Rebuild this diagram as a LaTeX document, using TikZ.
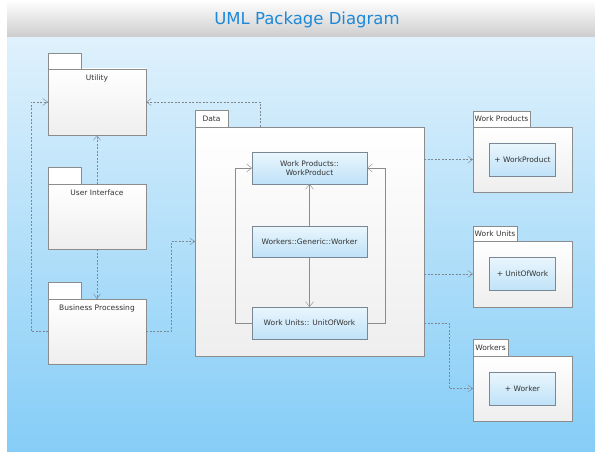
\documentclass[tikz,border=0pt]{standalone}
\usepackage{fontspec}
\setmainfont{DejaVu Sans}
\usetikzlibrary{positioning, arrows.meta}
\definecolor{titleBlue}{HTML}{1E88D8}
\definecolor{textGray}{HTML}{333333}
\definecolor{boxGray}{HTML}{8C8C8C}
\definecolor{clsBorder}{HTML}{7A8896}
\definecolor{clsTop}{HTML}{EAF6FD}
\definecolor{clsBottom}{HTML}{BFE2F8}
\definecolor{pkgBottom}{HTML}{EEEEEE}
\definecolor{skyTop}{HTML}{DFF1FC}
\definecolor{skyBottom}{HTML}{85CDF7}
\definecolor{barBottom}{HTML}{CDCDCD}
\definecolor{depGray}{HTML}{7F8890}

\begin{document}
\begin{tikzpicture}[x=1pt, y=-1pt,
    font=\fontsize{7.5}{9}\selectfont, text=textGray,
    body/.style={draw=boxGray, top color=white, bottom color=pkgBottom,
        anchor=north west, inner sep=0pt, outer sep=0pt},
    tab/.style={draw=boxGray, fill=white, anchor=south west,
        inner sep=1pt, outer sep=0pt, minimum height=16pt},
    cls/.style={draw=clsBorder, top color=clsTop, bottom color=clsBottom,
        align=center, inner sep=0pt, outer sep=0pt},
    dep/.style={draw=depGray, dash pattern=on 2pt off 1.5pt,
        -{Straight Barb[length=5pt,width=7pt]}},
    assoc/.style={draw=boxGray, -{Straight Barb[length=5pt,width=8pt]}}]

    % background and title
    \useasboundingbox (0,0) rectangle (595,452);
    \shade[top color=skyTop, bottom color=skyBottom] (7,37) rectangle (595,452);
    \shade[top color=white, bottom color=barBottom] (7,0) rectangle (595,37);
    \node[text=titleBlue, font=\fontsize{16.5}{18}\selectfont] (title) at (307,20) {UML Package Diagram};

    % left packages
    \node[body, minimum width=98pt, minimum height=66pt] (util) at (48,69) {};
    \node[tab, minimum width=33pt] (utilTab) at (util.north west) {};
    \node[below=2.5pt of util.north] (utilLabel) {Utility};

    \node[body, minimum width=98pt, minimum height=65pt] (ui) at (48,184) {};
    \node[tab, minimum width=33pt, minimum height=17pt] (uiTab) at (ui.north west) {};
    \node[below=2.5pt of ui.north] (uiLabel) {User Interface};

    \node[body, minimum width=98pt, minimum height=65pt] (bp) at (48,299) {};
    \node[tab, minimum width=33pt, minimum height=17pt] (bpTab) at (bp.north west) {};
    \node[below=2.5pt of bp.north] (bpLabel) {Business Processing};

    % data package
    \node[body, minimum width=229pt, minimum height=229pt] (data) at (195,127) {};
    \node[tab, minimum width=33pt, minimum height=17pt] (dataTab) at (data.north west) {Data};
    \node[cls, minimum width=115pt, minimum height=32pt] (wpCls) at (309.5,168) {Work Products::\\WorkProduct};
    \node[cls, minimum width=115pt, minimum height=31pt] (workerCls) at (309.5,241.5) {Workers::Generic::Worker};
    \node[cls, minimum width=115pt, minimum height=32pt] (wuCls) at (309.5,323) {Work Units:: UnitOfWork};

    % right packages
    \node[body, minimum width=99pt, minimum height=65pt] (wpPkg) at (473,127) {};
    \node[tab, minimum width=57pt] (wpTab) at (wpPkg.north west) {Work Products};
    \node[cls, minimum width=66pt, minimum height=33pt] (wpItem) at (wpPkg) {+ WorkProduct};

    \node[body, minimum width=99pt, minimum height=66pt] (wuPkg) at (473,241) {};
    \node[tab, minimum width=44pt, minimum height=15pt] (wuTab) at (wuPkg.north west) {Work Units};
    \node[cls, minimum width=66pt, minimum height=33pt] (wuItem) at (wuPkg) {+ UnitOfWork};

    \node[body, minimum width=99pt, minimum height=65pt] (wkPkg) at (473,356) {};
    \node[tab, minimum width=35pt, minimum height=17pt] (wkTab) at (wkPkg.north west) {Workers};
    \node[cls, minimum width=66pt, minimum height=33pt] (wkItem) at (wkPkg) {+ Worker};

    % links inside data
    \draw[assoc] (wuCls.west) -- ++(-17,0) |- (wpCls.west);
    \draw[assoc] (wuCls.east) -- ++(18,0) |- (wpCls.east);
    \draw[assoc] (workerCls.north) -- (wpCls.south);
    \draw[assoc] (workerCls.south) -- (wuCls.north);

    % dependencies
    \draw[dep] (ui.north) -- (util.south);
    \draw[dep] (ui.south) -- (bp.north);
    \draw[dep] (bp.west) -- ++(-17,0) |- (util.west);
    \draw[dep] (bp.east) -- ++(25,0) |- (data.west);
    \draw[dep] ([xshift=-49.5pt]data.north) |- (util.east);
    \draw[dep] (data.east |- wpPkg.west) -- (wpPkg.west);
    \draw[dep] (data.east |- wuPkg.west) -- (wuPkg.west);
    \draw[dep] (data.east |- wuCls.east) -- ++(25,0) |- (wkPkg.west);
\end{tikzpicture}
\end{document}
